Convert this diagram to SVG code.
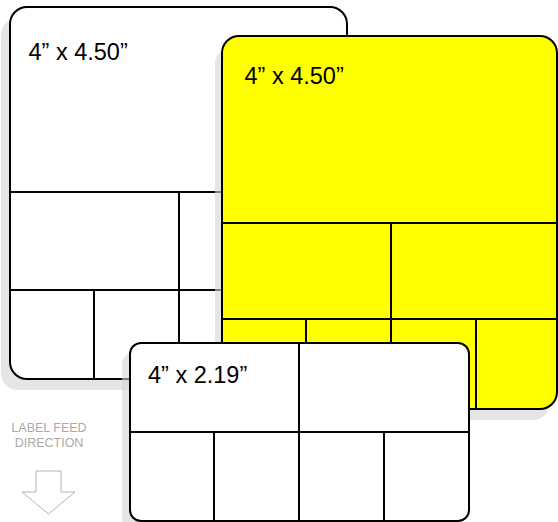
<svg xmlns="http://www.w3.org/2000/svg" width="558" height="522" viewBox="0 0 558 522">
<style>
.shadow{fill:#d4d4d4;fill-opacity:0.6;stroke:none}
.card{stroke:#000;stroke-width:2}
.ln{stroke:#000;stroke-width:2;fill:none}
.size{font-family:"Liberation Sans",Arial,sans-serif;font-size:23.5px;fill:#000}
.feed{font-family:"Liberation Sans",Arial,sans-serif;font-size:12.5px;fill:#aaaaaa;text-anchor:middle}
</style>
<rect width="558" height="522" fill="#fff"/>
<g id="card-back">
  <rect class="shadow" x="1" y="18" width="337" height="372" rx="17"/>
  <rect class="card" x="10" y="7" width="337" height="372" rx="17" fill="#fff"/>
  <path class="ln" d="M10 192H347M179 192V379M10 290H347M94 290V379"/>
  <text class="size" x="28.5" y="60">4” x 4.50”</text>
</g>
<g id="card-yellow">
  <rect class="shadow" x="215" y="47" width="335" height="373" rx="17"/>
  <rect class="card" x="222" y="36" width="335" height="373" rx="17" fill="#ffff00"/>
  <path class="ln" d="M222 223H557M391 223V409M222 319H557M306 319V409M476 319V409"/>
  <text class="size" x="244.5" y="84">4” x 4.50”</text>
</g>
<g id="card-front">
  <rect class="shadow" x="122" y="353" width="339" height="178" rx="11"/>
  <rect class="card" x="130" y="343" width="339" height="178" rx="11" fill="#fff"/>
  <path class="ln" d="M130 432H469M299 342V521M214 432V521M384 432V521"/>
  <text class="size" x="148" y="383">4” x 2.19”</text>
</g>
<g id="feed-direction">
  <text class="feed" x="49" y="432">LABEL FEED</text>
  <text class="feed" x="49" y="446.5">DIRECTION</text>
  <polygon points="36,471 61,471 61,492 75,492 48.5,514 22,492 36,492" fill="#fff" stroke="#b4b4b4" stroke-width="1"/>
</g>
</svg>
